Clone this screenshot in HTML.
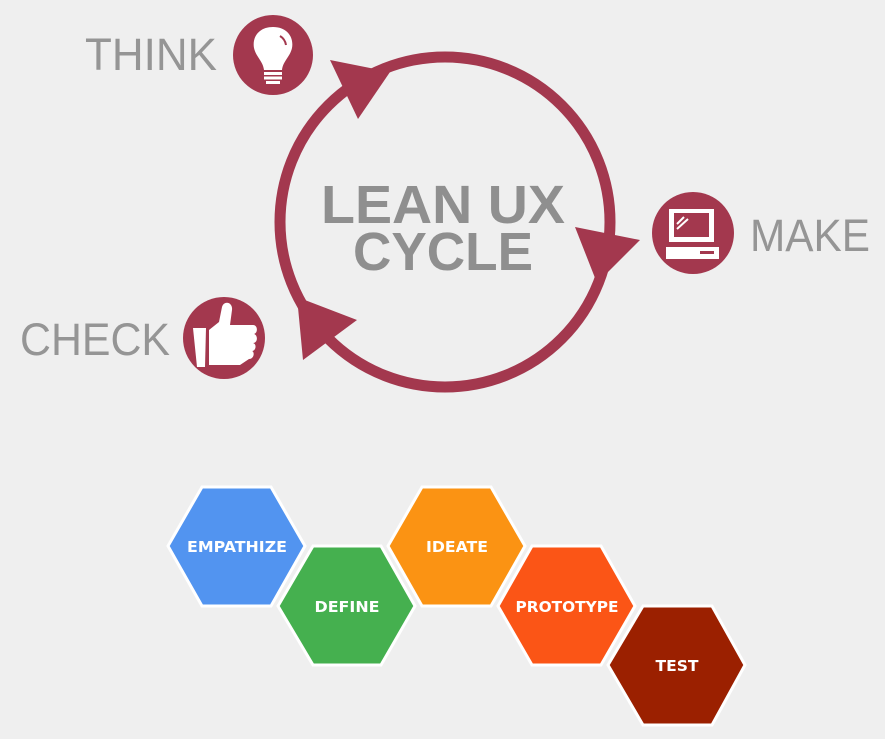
<!DOCTYPE html>
<html><head><meta charset="utf-8"><style>
html,body{margin:0;padding:0;background:#efefef;}
svg{display:block;}
</style></head><body>
<svg width="885" height="739" viewBox="0 0 885 739" xmlns="http://www.w3.org/2000/svg">
<rect width="885" height="739" fill="#efefef"/>
<!-- cycle -->
<circle cx="445" cy="222" r="165" fill="none" stroke="#a3384e" stroke-width="11"/>
<polygon points="330,60 390,72 358,119" fill="#a3384e"/>
<polygon points="575,227 640,240 597,283" fill="#a3384e"/>
<polygon points="357,320 303,360 297,297" fill="#a3384e"/>
<g font-family="Liberation Sans, sans-serif" font-weight="bold" fill="#8f8f8f" text-anchor="middle">
<text x="443" y="223" font-size="54" textLength="244" lengthAdjust="spacingAndGlyphs">LEAN UX</text>
<text x="443" y="270" font-size="54" textLength="180" lengthAdjust="spacingAndGlyphs">CYCLE</text>
</g>
<g font-family="Liberation Sans, sans-serif" fill="#959595" font-size="45">
<text x="85" y="70" textLength="132" lengthAdjust="spacingAndGlyphs">THINK</text>
<text x="750" y="251" textLength="120" lengthAdjust="spacingAndGlyphs">MAKE</text>
<text x="20" y="355" textLength="150" lengthAdjust="spacingAndGlyphs">CHECK</text>
</g>
<!-- think icon -->
<circle cx="273" cy="55" r="40" fill="#a3384e"/>
<path d="M273,27 C259,27 252,37 254,48 C256,57 263,61 264,70 L282,70 C283,61 290,57 292,48 C294,37 287,27 273,27 Z" fill="#fff"/>
<path d="M280,36 Q285,39 286,45" stroke="#a3384e" stroke-width="2" fill="none"/>
<rect x="264" y="72" width="18" height="3" fill="#fff"/>
<rect x="264" y="76.5" width="18" height="3" fill="#fff"/>
<rect x="266" y="81" width="14" height="3" fill="#fff"/>
<!-- make icon -->
<circle cx="693" cy="233" r="41" fill="#a3384e"/>
<rect x="669" y="209" width="45" height="33" fill="#fff"/>
<rect x="674" y="213" width="35" height="24" fill="#a3384e"/>
<line x1="677" y1="224" x2="684" y2="217" stroke="#fff" stroke-width="2"/>
<line x1="677" y1="229" x2="688" y2="219" stroke="#fff" stroke-width="2"/>
<rect x="666" y="247" width="53" height="12" fill="#fff"/>
<rect x="700" y="251" width="14" height="3" fill="#a3384e"/>
<!-- check icon -->
<circle cx="224" cy="338" r="41" fill="#a3384e"/>
<polygon points="193,328 206,328 205,367 197,367" fill="#fff"/>
<path d="M209,330 L219,322 L222,307 C224,300 233,302 232,310 L230,325 L253,325 C258,325 258,333 254,334 C258,335 258,343 253,343 C257,344 256,351 252,351 C255,352 254,359 249,359 L240,365 L209,365 Z" fill="#fff"/>
<!-- hexagons -->
<g stroke="#fff" stroke-width="3" stroke-linejoin="miter">
<polygon points="168,546 202,487 271,487 305,546 271,606 202,606" fill="#5294f0"/>
<polygon points="278,606 313,546 381,546 415,606 381,665 313,665" fill="#45b04f"/>
<polygon points="388,546 422,487 491,487 525,546 491,606 422,606" fill="#fb9313"/>
<polygon points="498,606 532,546 601,546 635,606 601,665 532,665" fill="#fb5516"/>
<polygon points="608,665 643,606 712,606 745,665 712,725 643,725" fill="#9b2000"/>
</g>
<g font-family="DejaVu Sans, Liberation Sans, sans-serif" font-weight="bold" fill="#fff" font-size="15" text-anchor="middle">
<text x="237" y="552" textLength="100" lengthAdjust="spacingAndGlyphs">EMPATHIZE</text>
<text x="347" y="612" textLength="65" lengthAdjust="spacingAndGlyphs">DEFINE</text>
<text x="457" y="552" textLength="62" lengthAdjust="spacingAndGlyphs">IDEATE</text>
<text x="567" y="612" textLength="103" lengthAdjust="spacingAndGlyphs">PROTOTYPE</text>
<text x="677" y="671" textLength="43" lengthAdjust="spacingAndGlyphs">TEST</text>
</g>
</svg>
</body></html>
